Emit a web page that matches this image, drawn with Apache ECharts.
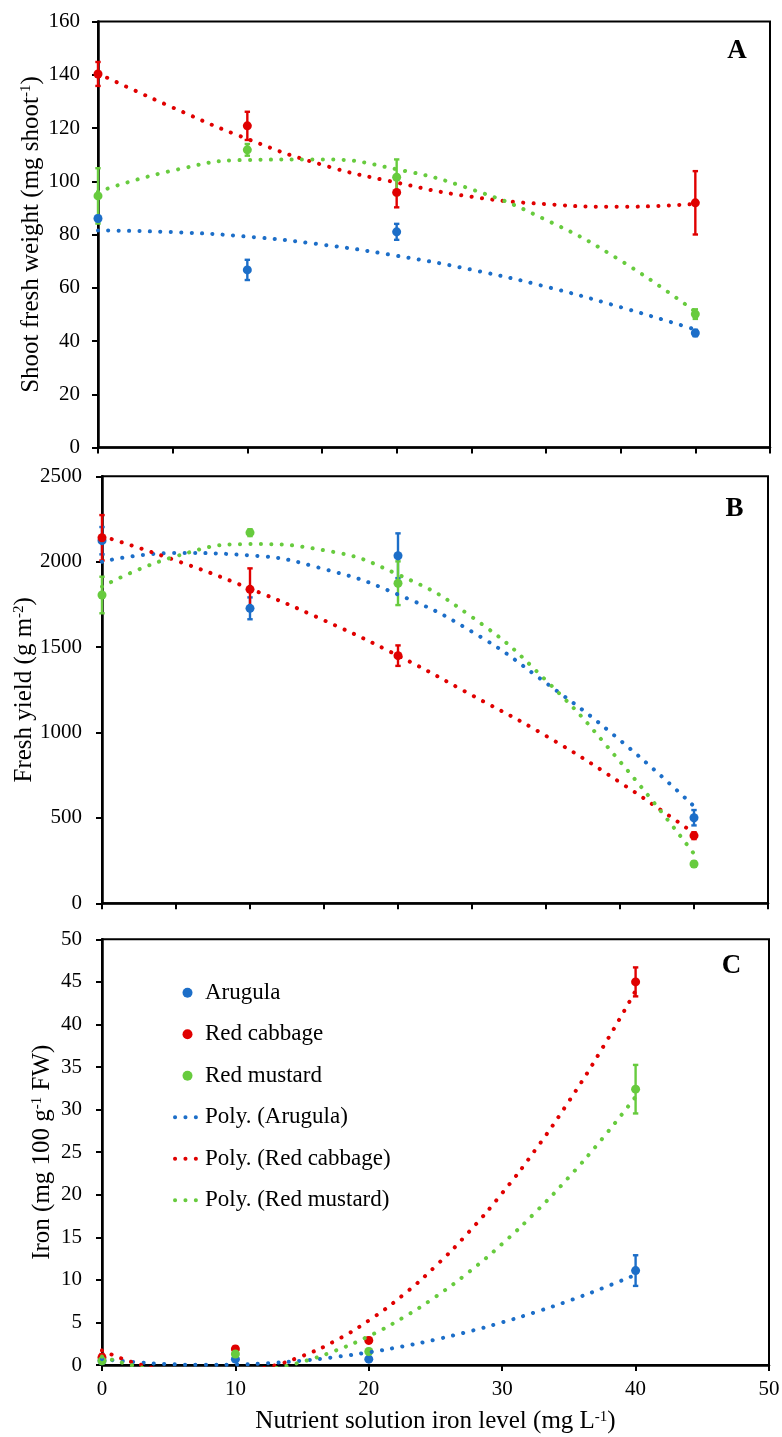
<!DOCTYPE html>
<html><head><meta charset="utf-8">
<script src="https://cdn.jsdelivr.net/npm/echarts@6/dist/echarts.min.js"></script>
<style>html,body{margin:0;padding:0;background:#fff}#c{width:782px;height:1437px}</style>
</head><body><div id="c"></div>
<script>
// ---------- data ----------
const ironLevels = [0, 10, 20, 40];
const trendLevelsAB = [0, 5, 10, 15, 20, 25, 30, 35, 40];
const trendLevelsC = [0, 2.5, 5, 7.5, 10, 12.5, 15, 17.5, 20, 22.5, 25, 27.5, 30, 32.5, 35, 37.5, 40];

// Panel A: shoot fresh weight (mg shoot-1)
const shootArugula = [86, 66.7, 81, 43];
const shootArugulaErr = [1, 3.8, 3, 1.2];
const shootCabbage = [140.3, 120.8, 95.8, 91.9];
const shootCabbageErr = [4.5, 5.3, 5.6, 11.9];
const shootMustard = [94.5, 111.8, 101.5, 50.1];
const shootMustardErr = [10.4, 2.2, 6.7, 1.8];
const shootTrendArugula = [81.5, 80.9, 79.2, 76.2, 72.0, 66.8, 60.4, 52.7, 44.3];
const shootTrendCabbage = [140.5, 127.7, 115.9, 106.2, 99.5, 94.2, 91.4, 90.4, 91.5];
const shootTrendMustard = [96.0, 104.0, 108.0, 108.2, 104.5, 97.0, 85.5, 70.2, 51.0];

// Panel B: fresh yield (g m-2)
const yieldArugula = [2123, 1727, 2035, 501];
const yieldArugulaErr = [80, 64, 131, 45];
const yieldCabbage = [2140, 1838, 1450, 396];
const yieldCabbageErr = [133, 123, 60, 20];
const yieldMustard = [1805, 2170, 1874, 230];
const yieldMustardErr = [107, 20, 128, 15];
const yieldTrendArugula = [2000, 2051, 2037, 1957, 1808, 1590, 1290, 955, 568];
const yieldTrendCabbage = [2150, 2007, 1842, 1657, 1450, 1218, 980, 708, 410];
const yieldTrendMustard = [1854, 2032, 2103, 2067, 1925, 1676, 1305, 830, 290];

// Panel C: iron (mg 100 g-1 FW)
const ironArugula = [0.5, 0.7, 0.7, 11.1];
const ironArugulaErr = [0.2, 0.2, 0.2, 1.8];
const ironCabbage = [0.9, 1.9, 2.9, 45.0];
const ironCabbageErr = [0.4, 0.3, 0.3, 1.7];
const ironMustard = [0.5, 1.3, 1.6, 32.4];
const ironMustardErr = [0.2, 0.3, 0.3, 2.85];
const ironTrendArugula = [0.70, 0.35, 0.12, 0.03, 0.06, 0.23, 0.52, 0.95, 1.50, 2.19, 3.00, 3.94, 5.02, 6.22, 7.55, 9.02, 10.61];
const ironTrendCabbage = [1.72, 0.23, -0.70, -1.09, -0.92, -0.21, 1.06, 2.87, 5.24, 8.15, 11.62, 15.63, 20.20, 25.31, 30.98, 37.19, 43.96];
const ironTrendMustard = [1.00, -0.11, -0.81, -1.11, -1.01, -0.51, 0.39, 1.70, 3.40, 5.51, 8.02, 10.93, 14.24, 17.96, 22.07, 26.59, 31.51];

const speciesNames = ['Arugula', 'Red cabbage', 'Red mustard'];
const trendNames = ['Poly. (Arugula)', 'Poly. (Red cabbage)', 'Poly. (Red mustard)'];
const yTitles = ['Shoot fresh weight (mg shoot{s|-1})', 'Fresh yield (g m{s|-2})', 'Iron (mg 100 g{s|-1} FW)'];
const xTitle = 'Nutrient solution iron level (mg L{s|-1})';
const panelLetters = ['A', 'B', 'C'];

// ---------- style ----------
const COLORS = ['#1c6ec8', '#e00000', '#67cb3e'];
const FONT = 'Liberation Serif';
const supRich = { s: { fontSize: 15, fontFamily: FONT, color: '#000', verticalAlign: 'top', lineHeight: 16 } };

const grids = [
  { left: 98, top: 21.5, width: 672, height: 426 },
  { left: 102, top: 476.3, width: 666, height: 427 },
  { left: 102, top: 939.3, width: 667, height: 425.8 }
];
const yRanges = [[0, 160, 20], [0, 2500, 500], [0, 50, 5]];
const yNameGaps = [54, 65, 47];
const letterPos = [[737, 51], [734.5, 509], [731.5, 966]];

function errorRender(color) {
  return function (params, api) {
    const x = api.value(0), y = api.value(1), e = api.value(2);
    const top = api.coord([x, y + e]);
    const bot = api.coord([x, y - e]);
    const w = 2.7;
    const st = { stroke: color, lineWidth: 2.4 };
    return { type: 'group', children: [
      { type: 'line', shape: { x1: top[0], y1: top[1], x2: bot[0], y2: bot[1] }, style: st },
      { type: 'line', shape: { x1: top[0] - w, y1: top[1], x2: top[0] + w, y2: top[1] }, style: st },
      { type: 'line', shape: { x1: bot[0] - w, y1: bot[1], x2: bot[0] + w, y2: bot[1] }, style: st }
    ]};
  };
}

const panels = [
  { vals: [shootArugula, shootCabbage, shootMustard], errs: [shootArugulaErr, shootCabbageErr, shootMustardErr],
    trends: [shootTrendArugula, shootTrendCabbage, shootTrendMustard], tx: trendLevelsAB },
  { vals: [yieldArugula, yieldCabbage, yieldMustard], errs: [yieldArugulaErr, yieldCabbageErr, yieldMustardErr],
    trends: [yieldTrendArugula, yieldTrendCabbage, yieldTrendMustard], tx: trendLevelsAB },
  { vals: [ironArugula, ironCabbage, ironMustard], errs: [ironArugulaErr, ironCabbageErr, ironMustardErr],
    trends: [ironTrendArugula, ironTrendCabbage, ironTrendMustard], tx: trendLevelsC }
];

const xAxes = [], yAxes = [], series = [];
grids.forEach((g, p) => {
  g.show = true; g.borderColor = '#000'; g.borderWidth = 2; g.backgroundColor = 'transparent';
  g.containLabel = false; g.outerBoundsMode = 'none';
  const isC = p === 2;
  xAxes.push({
    type: 'value', gridIndex: p, min: 0, max: isC ? 50 : 45, interval: isC ? 10 : 5,
    axisLine: { show: true, onZero: false, lineStyle: { color: '#000', width: 2.5 } },
    axisTick: { show: true, inside: false, length: 6, lineStyle: { color: '#000', width: 2 } },
    axisLabel: { show: isC, margin: 14, fontFamily: FONT, fontSize: 21, color: '#000', formatter: v => String(v) },
    splitLine: { show: false },
    name: isC ? xTitle : '', nameLocation: 'middle', nameGap: 44, nameMoveOverlap: false,
    nameTextStyle: { fontFamily: FONT, fontSize: 25, color: '#000', rich: supRich }
  });
  yAxes.push({
    type: 'value', gridIndex: p, min: yRanges[p][0], max: yRanges[p][1], interval: yRanges[p][2],
    axisLine: { show: true, onZero: false, lineStyle: { color: '#000', width: 2.5 } },
    axisTick: { show: true, inside: false, length: 6, lineStyle: { color: '#000', width: 2 } },
    axisLabel: { margin: p === 0 ? 18 : 20, fontFamily: FONT, fontSize: 21, color: '#000', formatter: v => String(v) },
    splitLine: { show: false },
    name: yTitles[p], nameLocation: 'middle', nameGap: yNameGaps[p], nameRotate: 90, nameMoveOverlap: false,
    nameTextStyle: { fontFamily: FONT, fontSize: 25, color: '#000', rich: supRich }
  });
  const P = panels[p];
  for (let s = 0; s < 3; s++) {
    series.push({
      type: 'custom', name: speciesNames[s] + ' SE', xAxisIndex: p, yAxisIndex: p, z: 2, silent: true,
      renderItem: errorRender(COLORS[s]),
      data: ironLevels.map((x, i) => [x, P.vals[s][i], P.errs[s][i]])
    });
  }
  for (let s = 0; s < 3; s++) {
    series.push({
      type: 'scatter', name: speciesNames[s], xAxisIndex: p, yAxisIndex: p, z: 3, silent: true,
      symbol: 'circle', symbolSize: 9, itemStyle: { color: COLORS[s], opacity: 1 },
      data: ironLevels.map((x, i) => [x, P.vals[s][i]])
    });
  }
  for (let s = 0; s < 3; s++) {
    series.push({
      type: 'line', name: trendNames[s], xAxisIndex: p, yAxisIndex: p, z: 4, silent: true,
      symbol: 'none', showSymbol: false, smooth: true, clip: true,
      itemStyle: { color: COLORS[s] },
      lineStyle: { color: COLORS[s], width: 4, type: [0.1, 10.3], cap: 'round' },
      data: P.tx.map((x, i) => [x, P.trends[s][i]])
    });
  }
});

const graphics = panelLetters.map((t, p) => ({
  type: 'text', x: letterPos[p][0], y: letterPos[p][1], silent: true,
  style: { text: t, fontFamily: FONT, fontWeight: 'bold', fontSize: 27, fill: '#000', align: 'center', verticalAlign: 'middle' }
}));

const chart = echarts.init(document.getElementById('c'), null, { renderer: 'canvas' });
chart.setOption({
  animation: false,
  backgroundColor: '#fff',
  grid: grids,
  xAxis: xAxes,
  yAxis: yAxes,
  legend: {
    orient: 'vertical', left: 168, top: 967, itemWidth: 25, itemHeight: 10, itemGap: 0,
    selectedMode: false,
    textStyle: { fontFamily: FONT, fontSize: 23, color: '#000', lineHeight: 41.5 },
    lineStyle: { width: 4 },
    data: [
      { name: speciesNames[0] }, { name: speciesNames[1] }, { name: speciesNames[2] },
      { name: trendNames[0], itemStyle: { opacity: 0 } },
      { name: trendNames[1], itemStyle: { opacity: 0 } },
      { name: trendNames[2], itemStyle: { opacity: 0 } }
    ]
  },
  graphic: graphics,
  series: series
});
</script></body></html>
